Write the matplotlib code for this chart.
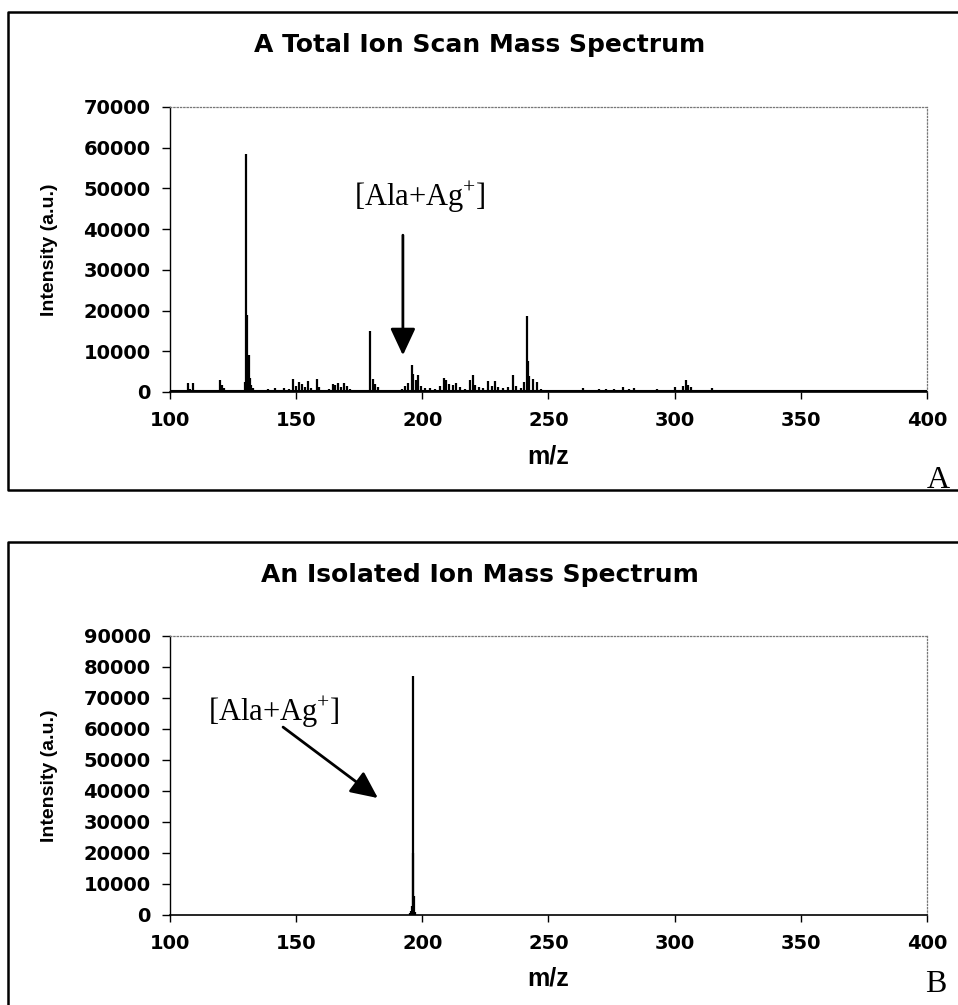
import matplotlib
matplotlib.use("Agg")
import matplotlib.pyplot as plt
from matplotlib.lines import Line2D

plt.rcParams['font.family'] = ['DejaVu Sans']
plt.rcParams['mathtext.fontset'] = 'custom'
plt.rcParams['mathtext.rm'] = 'Liberation Serif'

# DATA
# Panel A: total ion scan, peak positions (m/z) and intensities
mz_a = [105.5, 107, 108, 109, 110, 113, 116, 119.8, 120.6, 121.5, 123, 125, 127,
        129.8, 130.3, 130.7, 131.1, 131.6, 132.2, 133, 135, 137, 139, 141.5, 143,
        145, 147, 148.7, 150, 151, 152.5, 153.5, 154.7, 156, 158.1, 159, 161, 163,
        164.5, 165.5, 166.7, 167.7, 169, 170.2, 171.2, 173, 175, 177, 179.4, 180.3,
        181.2, 182.5, 184, 186, 188, 190, 192, 193, 194.5, 195.8, 196.5, 197.3,
        198.4, 199.5, 201, 203, 205, 207, 208.5, 209.5, 210.5, 212, 213.5, 215,
        217, 219, 220, 221, 222.5, 224, 226, 227.5, 228.8, 230, 232, 234, 235.8,
        237, 239, 240.5, 241.3, 241.8, 242.4, 243.9, 245.3, 247, 249, 252, 256,
        260, 263.7, 266, 270, 273, 276, 279.5, 282, 284, 287, 290, 293, 296, 300,
        302, 303.5, 304.5, 305.5, 306.5, 308, 311, 315, 320, 325, 329, 331, 333,
        340, 347.7, 355, 361, 368, 374, 381, 385, 390, 395]
int_a = [300, 2300, 800, 2300, 600, 300, 400, 3000, 1800, 900, 500, 400, 600,
         2500, 58500, 19000, 9000, 3500, 1800, 900, 600, 500, 700, 1000, 600,
         900, 700, 3300, 1500, 2400, 2000, 1200, 2600, 900, 3300, 1300, 600, 700,
         1900, 1600, 2200, 1200, 2200, 1500, 700, 500, 400, 600, 15000, 3200,
         2000, 1300, 500, 300, 400, 600, 800, 1400, 2200, 6500, 4500, 3000,
         4200, 1500, 1000, 900, 800, 1500, 3400, 3000, 2000, 1600, 2200, 1300,
         800, 3000, 4200, 1800, 1200, 1000, 2700, 1500, 2800, 1200, 900, 1300, 4100,
         1500, 1000, 2500, 18600, 7500, 4000, 3200, 2500, 700, 500, 500, 600,
         500, 1000, 600, 700, 800, 700, 1100, 700, 900, 600, 500, 700, 400, 1100,
         500, 1500, 3000, 1700, 1200, 500, 300, 1000, 300, 500, 400, 500, 400,
         200, 400, 200, 400, 200, 600, 300, 400, 200, 300]

# Panel B: isolated ion
mz_b = [195.2, 195.6, 196.0, 196.2, 196.5, 196.8, 197.1]
int_b = [500, 1200, 3000, 77000, 20000, 6000, 800]

x_ticks = [100, 150, 200, 250, 300, 350, 400]
y_ticks_a = list(range(0, 70001, 10000))
y_ticks_b = list(range(0, 90001, 10000))

fig = plt.figure(figsize=(9.58, 10.05), dpi=100)


def fig_line(xs, ys):
    fig.lines.append(Line2D(xs, ys, transform=fig.transFigure,
                            color="black", linewidth=1.8))


# outer panel frames (open on the right, like the scanned page)
x0 = 0.0084
top_a, bot_a = 1 - 12 / 1005, 1 - 490 / 1005
top_b = 1 - 542 / 1005
fig_line([1.0, x0, x0, 1.0], [top_a, top_a, bot_a, bot_a])
fig_line([1.0, x0, x0], [top_b, top_b, 0.0])

ax_a = fig.add_axes([0.1775, 0.6100, 0.790, 0.2836])
ax_b = fig.add_axes([0.1775, 0.0896, 0.790, 0.2776])


def style_axes(ax, yticks):
    ax.set_xlim(100, 400)
    ax.set_ylim(0, yticks[-1])
    ax.set_xticks(x_ticks)
    ax.set_yticks(yticks)
    ax.set_xticklabels([str(t) for t in x_ticks], fontsize=14, fontweight="bold")
    ax.set_yticklabels([str(t) for t in yticks], fontsize=14, fontweight="bold")
    ax.tick_params(axis="y", direction="out", length=6, width=1, pad=8)
    ax.tick_params(axis="x", direction="out", length=5, width=1, pad=9)
    for s in ["top", "right"]:
        ax.spines[s].set_linestyle(":")
        ax.spines[s].set_color("#777777")
        ax.spines[s].set_linewidth(0.9)
    ax.spines["left"].set_linewidth(1.0)
    ax.spines["bottom"].set_linewidth(1.2)
    ax.set_xlabel("m/z", fontsize=18, fontweight="bold", family="Liberation Sans")
    ax.xaxis.set_label_coords(0.5, -0.186)
    ax.set_ylabel("Intensity (a.u.)", fontsize=14, fontweight="bold",
                  family="Liberation Sans")
    ax.yaxis.set_label_coords(-0.148, 0.5)


# Panel A
ax_a.vlines(mz_a, 0, int_a, color="black", linewidth=1.6)
ax_a.plot([100, 400], [150, 150], color="black", linewidth=1.5)
style_axes(ax_a, y_ticks_a)
fig.text(0.501, 1 - 45 / 1005, "A Total Ion Scan Mass Spectrum", fontsize=18,
         fontweight="bold", ha="center", va="center")
ax_a.annotate("", xy=(192.3, 9000), xytext=(192.3, 38500),
              arrowprops=dict(arrowstyle="-|>,head_width=0.35,head_length=0.75",
                              color="black", lw=2, mutation_scale=22,
                              shrinkA=0, shrinkB=0))
ax_a.text(199, 47900, r"[Ala+Ag$^{+}$]", fontsize=22, ha="center", va="center",
          family="Liberation Serif")

# Panel B
ax_b.vlines(mz_b, 0, int_b, color="black", linewidth=1.6)
style_axes(ax_b, y_ticks_b)
fig.text(0.501, 1 - 575 / 1005, "An Isolated Ion Mass Spectrum", fontsize=18,
         fontweight="bold", ha="center", va="center")
ax_b.annotate("", xy=(182.4, 37700), xytext=(144.8, 60600),
              arrowprops=dict(arrowstyle="-|>,head_width=0.35,head_length=0.75",
                              color="black", lw=2, mutation_scale=22,
                              shrinkA=0, shrinkB=0))
ax_b.text(141.2, 65500, r"[Ala+Ag$^{+}$]", fontsize=22, ha="center", va="center",
          family="Liberation Serif")

# panel letters
fig.text(0.979, 1 - 488 / 1005, "A", fontsize=23, family="Liberation Serif",
         ha="center", va="baseline")
fig.text(0.977, 1 - 992 / 1005, "B", fontsize=23, family="Liberation Serif",
         ha="center", va="baseline")

fig.savefig("out.png", dpi=100)
plt.close(fig)
